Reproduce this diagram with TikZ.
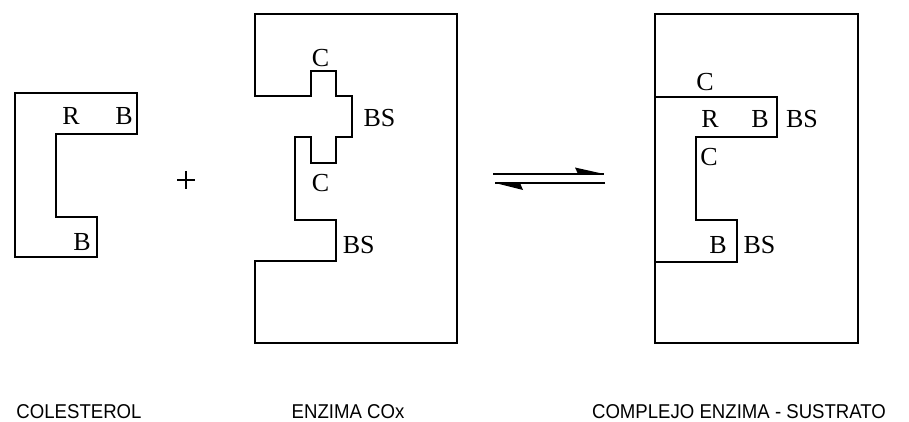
\documentclass[tikz,border=0pt]{standalone}
\usepackage{fontspec}
\setmainfont{Liberation Serif}
\newfontfamily\capfont{Liberation Sans}
\begin{document}
\begin{tikzpicture}[x=1pt,y=-1pt,
  outline/.style={line width=2.2pt,line join=miter},
  lbl/.style={font=\fontsize{26}{26}\selectfont,inner sep=0pt,anchor=base},
  captext/.style={font=\capfont\fontsize{20}{20}\selectfont,inner sep=0pt,anchor=base,xscale=0.93},
  harp/.style={line width=2.4pt}]
\useasboundingbox (0,0) rectangle (909,422);
% colesterol
\draw[outline] (15,93) -- (137,93) -- (137,134) -- (56,134) -- (56,217) -- (97,217) -- (97,257) -- (15,257) -- cycle;
\node[lbl] (cR) at (71,125) {R};
\node[lbl] (cB1) at (124,125) {B};
\node[lbl] (cB2) at (82,250) {B};
% plus
\draw[line width=1.3pt] (177,180) -- (195,180);
\draw[line width=1.3pt] (186,171) -- (186,189);
% enzyme
\draw[outline] (255,14) -- (255,96) -- (311,96) -- (311,71) -- (336,71) -- (336,96) -- (352,96) -- (352,137) -- (336,137) -- (336,163) -- (311,163) -- (311,137) -- (295,137) -- (295,220) -- (336,220) -- (336,261) -- (255,261) -- (255,343) -- (457,343) -- (457,14) -- cycle;
\node[lbl] (eC1) at (320.5,67) {C};
\node[lbl] (eBS1) at (379.5,127) {BS};
\node[lbl] (eC2) at (320.5,191) {C};
\node[lbl] (eBS2) at (358.8,253) {BS};
% equilibrium arrows
\coordinate (a1) at (493,174);
\coordinate (a2) at (604,174);
\coordinate (b1) at (495,183);
\coordinate (b2) at (605,183);
\draw[harp] (a1) -- (a2);
\fill (a2) -- (575,167.5) -- (578,174) -- cycle;
\draw[harp] (b2) -- (b1);
\fill (b1) -- (523,190) -- (520,183) -- cycle;
% complex
\draw[outline] (655,14) rectangle (858,343);
\draw[outline] (655,97) -- (777,97) -- (777,137) -- (696,137) -- (696,220) -- (737,220) -- (737,262) -- (655,262);
\node[lbl] (xC1) at (705,91) {C};
\node[lbl] (xR) at (710,128) {R};
\node[lbl] (xB1) at (760,128) {B};
\node[lbl] (xBS1) at (802,128) {BS};
\node[lbl] (xC2) at (709,166) {C};
\node[lbl] (xB2) at (718,253) {B};
\node[lbl] (xBS2) at (759.5,253) {BS};
% captions
\node[captext] (t1) at (79,418) {COLESTEROL};
\node[captext] (t2) at (348,418) {ENZIMA COx};
\node[captext] (t3) at (739,418) {COMPLEJO ENZIMA - SUSTRATO};
\end{tikzpicture}
\end{document}
